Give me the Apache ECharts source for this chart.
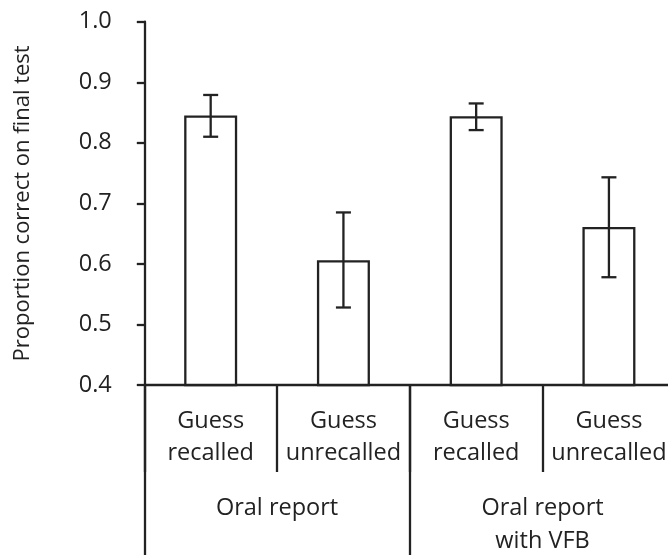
<!DOCTYPE html>
<html>
<head>
<meta charset="utf-8">
<script src="https://cdn.jsdelivr.net/npm/echarts@6/dist/echarts.min.js"></script>
<style>
  html, body { margin: 0; padding: 0; background: #fff; }
  #chart { width: 668px; height: 555px; }
</style>
</head>
<body>
<div id="chart"></div>
<script>
// Conditions on the x axis (inner row) and their report groups (outer row)
const conditions = ['Guess\nrecalled', 'Guess\nunrecalled', 'Guess\nrecalled', 'Guess\nunrecalled'];
const groups = ['Oral report', 'Oral report\nwith VFB'];

// Mean proportion correct on the final test, with error-bar limits
const means   = [0.845, 0.606, 0.844, 0.661];
const errLow  = [0.810, 0.528, 0.821, 0.578];
const errHigh = [0.879, 0.685, 0.865, 0.743];

// Y axis range and step
const yMin = 0.4, yMax = 1.0, yStep = 0.1;

const ink = '#222222';
const fontFamily = '"Open Sans", "Noto Sans", sans-serif';
const lineW = 2.3;

const errorData = means.map((m, i) => [i, errLow[i], errHigh[i]]);

const chart = echarts.init(document.getElementById('chart'));
chart.setOption({
  backgroundColor: '#ffffff',
  animation: false,
  grid: {
    left: 144.3, top: 21.7, bottom: 170, width: 531,
    containLabel: false,
    outerBoundsMode: 'none'
  },
  xAxis: [
    {
      type: 'category',
      data: conditions,
      position: 'bottom',
      axisLine: { show: true, lineStyle: { color: ink, width: lineW } },
      axisTick: { show: true, interval: 0, length: 87, lineStyle: { color: ink, width: lineW } },
      axisLabel: {
        interval: 0, margin: 21, color: ink, fontSize: 23.5, lineHeight: 31.5,
        fontFamily: fontFamily, align: 'center'
      },
      splitLine: { show: false }
    },
    {
      type: 'category',
      data: groups,
      position: 'bottom',
      gridIndex: 0,
      axisLine: { show: false },
      axisTick: { show: true, interval: 0, length: 170, lineStyle: { color: ink, width: lineW } },
      axisLabel: {
        interval: 0, margin: 106.5, color: ink, fontSize: 23.5, lineHeight: 33,
        fontFamily: fontFamily, align: 'center'
      },
      splitLine: { show: false }
    }
  ],
  yAxis: {
    type: 'value',
    min: yMin, max: yMax, interval: yStep,
    name: 'Proportion correct on final test',
    nameLocation: 'middle',
    nameRotate: 90,
    nameGap: 111,
    nameTextStyle: { color: ink, fontSize: 22, fontFamily: fontFamily },
    axisLine: { show: true, lineStyle: { color: ink, width: lineW } },
    axisTick: { show: true, inside: false, length: 7.5, lineStyle: { color: ink, width: lineW } },
    axisLabel: {
      margin: 32.5, color: ink, fontSize: 23.5, fontFamily: fontFamily,
      formatter: v => v.toFixed(1)
    },
    splitLine: { show: false }
  },
  series: [
    {
      type: 'bar',
      xAxisIndex: 0,
      data: means,
      barWidth: 53,
      itemStyle: { color: '#ffffff', borderColor: ink, borderWidth: lineW },
      z: 2
    },
    {
      type: 'custom',
      xAxisIndex: 0,
      data: errorData,
      z: 3,
      renderItem: function (params, api) {
        const x = api.value(0);
        const lo = api.coord([x, api.value(1)]);
        const hi = api.coord([x, api.value(2)]);
        const half = 7.5;
        const style = { stroke: ink, lineWidth: lineW, fill: null };
        return {
          type: 'group',
          children: [
            { type: 'line', shape: { x1: hi[0], y1: hi[1], x2: lo[0], y2: lo[1] }, style: style },
            { type: 'line', shape: { x1: hi[0] - half, y1: hi[1], x2: hi[0] + half, y2: hi[1] }, style: style },
            { type: 'line', shape: { x1: lo[0] - half, y1: lo[1], x2: lo[0] + half, y2: lo[1] }, style: style }
          ]
        };
      }
    }
  ]
});
</script>
</body>
</html>
